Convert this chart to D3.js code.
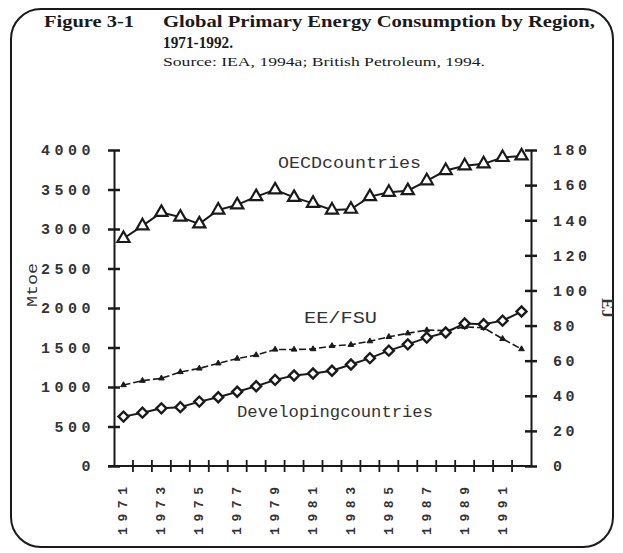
<!DOCTYPE html>
<html>
<head>
<meta charset="utf-8">
<script src="https://cdn.jsdelivr.net/npm/d3@7"></script>
<style>
  body { margin: 0; background: #fff; }
  svg { display: block; }
</style>
</head>
<body>
<svg id="chart" width="623" height="553"></svg>
<script>
// values (Mtoe)
const years = d3.range(1971, 1993);
const yearLabels = [1971, 1973, 1975, 1977, 1979, 1981, 1983, 1985, 1987, 1989, 1991];
const oecd = [2880, 3040, 3210, 3150, 3065, 3240, 3305, 3410, 3495, 3400, 3325, 3240,
              3250, 3410, 3465, 3485, 3610, 3740, 3800, 3825, 3905, 3925];
const eeFsu = [1025, 1080, 1110, 1190, 1235, 1300, 1360, 1405, 1475, 1475, 1480, 1520,
               1535, 1580, 1635, 1680, 1720, 1715, 1760, 1750, 1610, 1480];
const developing = [625, 675, 730, 745, 815, 870, 940, 1010, 1090, 1145, 1170, 1205,
                    1285, 1365, 1460, 1540, 1625, 1690, 1805, 1795, 1840, 1955];
const mtoeTicks = [0, 500, 1000, 1500, 2000, 2500, 3000, 3500, 4000];
const ejTicks = [0, 20, 40, 60, 80, 100, 120, 140, 160, 180];

const svg = d3.select('#chart');
const plot = { left: 114, right: 531, top: 150, bottom: 466 };
const mono = '"Liberation Mono", "DejaVu Sans Mono", monospace';
const serif = '"Liberation Serif", "Times New Roman", serif';
const ink = '#1a1a1a';

// frame
svg.append('rect')
    .attr('x', 11).attr('y', 9)
    .attr('width', 602).attr('height', 538)
    .attr('rx', 30).attr('ry', 30)
    .attr('fill', 'none')
    .attr('stroke', ink)
    .attr('stroke-width', 2);

// heading
const heading = (txt, x0, y0, size, bold, len) => svg.append('text').text(txt)
    .attr('x', x0).attr('y', y0)
    .attr('font-family', serif).attr('font-weight', bold ? 'bold' : 'normal')
    .attr('font-size', size).attr('fill', ink)
    .attr('textLength', len).attr('lengthAdjust', 'spacingAndGlyphs');
heading('Figure 3-1', 44, 27, 16, true, 90);
heading('Global Primary Energy Consumption by Region,', 163, 27, 16, true, 432);
heading('1971-1992.', 163, 48, 16, true, 70);
heading('Source: IEA, 1994a; British Petroleum, 1994.', 163, 66, 12.5, false, 322);

const x = d3.scaleBand().domain(years).range([plot.left, plot.right]);
const yL = d3.scaleLinear().domain([0, 4000]).range([plot.bottom, plot.top]);
const yR = d3.scaleLinear().domain([0, 180]).range([plot.bottom, plot.top]);
const cx = d => x(d) + x.bandwidth() / 2;

// left axis
const leftAxis = svg.append('g')
    .attr('transform', `translate(${plot.left},0)`)
    .call(d3.axisLeft(yL).tickValues(mtoeTicks).tickFormat(d3.format('d'))
        .tickSizeOuter(0).tickSizeInner(6).tickPadding(13));
leftAxis.select('.domain').attr('stroke', ink).attr('stroke-width', 2);
leftAxis.selectAll('.tick line').attr('x1', -6).attr('x2', 6).attr('stroke', ink).attr('stroke-width', 2.5);
leftAxis.selectAll('.tick text')
    .attr('font-family', mono).attr('font-size', 15).attr('font-weight', 'bold').attr('fill', '#333')
    .attr('letter-spacing', 4.5);

// right axis
const rightAxis = svg.append('g')
    .attr('transform', `translate(${plot.right},0)`)
    .call(d3.axisRight(yR).tickValues(ejTicks).tickFormat(d3.format('d'))
        .tickSizeOuter(0).tickSizeInner(6).tickPadding(16));
rightAxis.select('.domain').attr('stroke', ink).attr('stroke-width', 2);
rightAxis.selectAll('.tick line').attr('x1', -6).attr('x2', 6).attr('stroke', ink).attr('stroke-width', 2.5);
rightAxis.selectAll('.tick text')
    .attr('font-family', mono).attr('font-size', 15).attr('font-weight', 'bold').attr('fill', '#333')
    .attr('letter-spacing', 3.5);

// bottom axis: tick marks on band edges, labels every other year
svg.append('line')
    .attr('x1', plot.left - 6).attr('x2', plot.right)
    .attr('y1', plot.bottom).attr('y2', plot.bottom)
    .attr('stroke', ink).attr('stroke-width', 2);
svg.append('g').selectAll('line')
    .data(years.slice(1))
    .join('line')
    .attr('x1', d => x(d)).attr('x2', d => x(d))
    .attr('y1', plot.bottom - 6).attr('y2', plot.bottom + 6)
    .attr('stroke', ink).attr('stroke-width', 1.8);
svg.append('g').selectAll('text')
    .data(yearLabels)
    .join('text')
    .text(d => d)
    .attr('transform', d => `translate(${cx(d) + 4},${plot.bottom + 69}) rotate(-90)`)
    .attr('font-family', mono).attr('font-size', 13).attr('font-weight', 'bold').attr('fill', '#333')
    .attr('textLength', 48).attr('lengthAdjust', 'spacing');

// axis titles
svg.append('text').text('Mtoe')
    .attr('transform', 'translate(37,285) rotate(-90)')
    .attr('text-anchor', 'middle')
    .attr('font-family', mono).attr('font-size', 15).attr('fill', '#333')
    .attr('textLength', 44).attr('lengthAdjust', 'spacingAndGlyphs');
svg.append('text').text('EJ')
    .attr('transform', 'translate(602,308) rotate(90)')
    .attr('text-anchor', 'middle')
    .attr('font-family', serif).attr('font-size', 17).attr('font-weight', 'bold').attr('fill', '#333');

// lines
const line = vals => d3.line()
    .x((d, i) => cx(years[i]))
    .y(d => yL(d))(vals);

svg.append('path').attr('d', line(oecd))
    .attr('fill', 'none').attr('stroke', ink).attr('stroke-width', 2);
svg.append('path').attr('d', line(eeFsu))
    .attr('fill', 'none').attr('stroke', ink).attr('stroke-width', 1.6)
    .attr('stroke-dasharray', '7,3');
svg.append('path').attr('d', line(developing))
    .attr('fill', 'none').attr('stroke', ink).attr('stroke-width', 2);

// markers
const bigTri = d3.symbol().type(d3.symbolTriangle).size(64);
const smallTri = d3.symbol().type(d3.symbolTriangle).size(14);
const diamond = d3.symbol().type(d3.symbolSquare).size(50);

svg.append('g').selectAll('path')
    .data(oecd)
    .join('path')
    .attr('d', bigTri)
    .attr('transform', (d, i) => `translate(${cx(years[i])},${yL(d)})`)
    .attr('fill', '#fff').attr('stroke', ink).attr('stroke-width', 2.2);
svg.append('g').selectAll('path')
    .data(eeFsu)
    .join('path')
    .attr('d', smallTri)
    .attr('transform', (d, i) => `translate(${cx(years[i])},${yL(d)})`)
    .attr('fill', ink).attr('stroke', ink).attr('stroke-width', 1);
svg.append('g').selectAll('path')
    .data(developing)
    .join('path')
    .attr('d', diamond)
    .attr('transform', (d, i) => `translate(${cx(years[i])},${yL(d)}) rotate(45)`)
    .attr('fill', '#fff').attr('stroke', ink).attr('stroke-width', 2.4);

// series labels
const seriesLabel = (txt, x0, y0, len) => svg.append('text').text(txt)
    .attr('x', x0).attr('y', y0)
    .attr('font-family', mono).attr('font-size', 16).attr('fill', '#333')
    .attr('textLength', len).attr('lengthAdjust', 'spacingAndGlyphs');
seriesLabel('OECDcountries', 278, 168, 143);
seriesLabel('EE/FSU', 304, 323, 73);
seriesLabel('Developingcountries', 237, 417, 196);
</script>
</body>
</html>
